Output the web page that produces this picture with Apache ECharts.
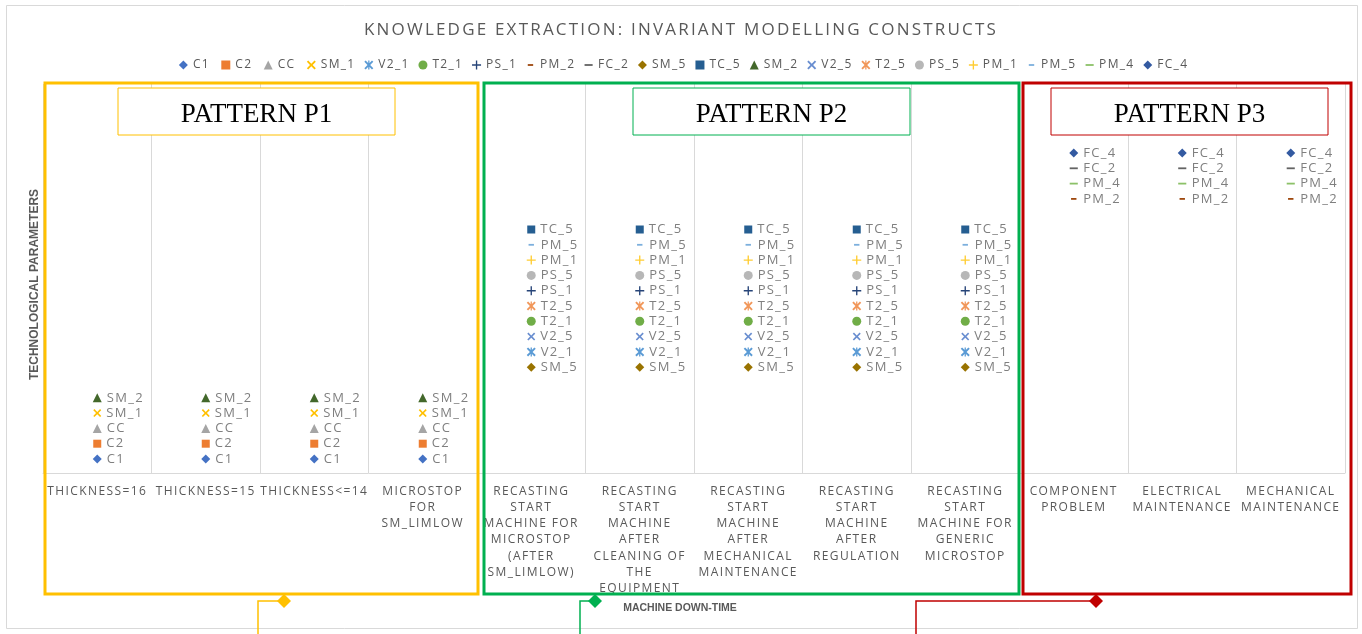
<!DOCTYPE html>
<html>
<head>
<meta charset="utf-8">
<script src="https://cdn.jsdelivr.net/npm/echarts@6/dist/echarts.min.js"></script>
<style>
  html, body { margin: 0; padding: 0; background: #ffffff; }
  #chart { width: 1362px; height: 634px; }
</style>
</head>
<body>
<div id="chart"></div>
<script>
// ---------------- DATA ----------------
const chartTitle = 'KNOWLEDGE EXTRACTION: INVARIANT MODELLING CONSTRUCTS';
const xTitle = 'MACHINE DOWN-TIME';
const yTitle = 'TECHNOLOGICAL PARAMETERS';

const categories = [
  'THICKNESS=16',
  'THICKNESS=15',
  'THICKNESS<=14',
  'MICROSTOP\nFOR\nSM_LIMLOW',
  'RECASTING\nSTART\nMACHINE FOR\nMICROSTOP\n(AFTER\nSM_LIMLOW)',
  'RECASTING\nSTART\nMACHINE\nAFTER\nCLEANING OF\nTHE\nEQUIPMENT',
  'RECASTING\nSTART\nMACHINE\nAFTER\nMECHANICAL\nMAINTENANCE',
  'RECASTING\nSTART\nMACHINE\nAFTER\nREGULATION',
  'RECASTING\nSTART\nMACHINE FOR\nGENERIC\nMICROSTOP',
  'COMPONENT\nPROBLEM',
  'ELECTRICAL\nMAINTENANCE',
  'MECHANICAL\nMAINTENANCE'
];

const _ = null;
// Pattern P1 parameters
const C1    = [1, 1, 1, 1, _, _, _, _, _, _, _, _];
const C2    = [2, 2, 2, 2, _, _, _, _, _, _, _, _];
const CC    = [3, 3, 3, 3, _, _, _, _, _, _, _, _];
const SM_1  = [4, 4, 4, 4, _, _, _, _, _, _, _, _];
const SM_2  = [5, 5, 5, 5, _, _, _, _, _, _, _, _];
// Pattern P2 parameters
const SM_5  = [_, _, _, _, 7, 7, 7, 7, 7, _, _, _];
const V2_1  = [_, _, _, _, 8, 8, 8, 8, 8, _, _, _];
const V2_5  = [_, _, _, _, 9, 9, 9, 9, 9, _, _, _];
const T2_1  = [_, _, _, _, 10, 10, 10, 10, 10, _, _, _];
const T2_5  = [_, _, _, _, 11, 11, 11, 11, 11, _, _, _];
const PS_1  = [_, _, _, _, 12, 12, 12, 12, 12, _, _, _];
const PS_5  = [_, _, _, _, 13, 13, 13, 13, 13, _, _, _];
const PM_1  = [_, _, _, _, 14, 14, 14, 14, 14, _, _, _];
const PM_5  = [_, _, _, _, 15, 15, 15, 15, 15, _, _, _];
const TC_5  = [_, _, _, _, 16, 16, 16, 16, 16, _, _, _];
// Pattern P3 parameters
const PM_2  = [_, _, _, _, _, _, _, _, _, 18, 18, 18];
const PM_4  = [_, _, _, _, _, _, _, _, _, 19, 19, 19];
const FC_2  = [_, _, _, _, _, _, _, _, _, 20, 20, 20];
const FC_4  = [_, _, _, _, _, _, _, _, _, 21, 21, 21];

// series in legend order
const seriesNames = ['C1','C2','CC','SM_1','V2_1','T2_1','PS_1','PM_2','FC_2','SM_5','TC_5','SM_2','V2_5','T2_5','PS_5','PM_1','PM_5','PM_4','FC_4'];
const seriesData  = [C1, C2, CC, SM_1, V2_1, T2_1, PS_1, PM_2, FC_2, SM_5, TC_5, SM_2, V2_5, T2_5, PS_5, PM_1, PM_5, PM_4, FC_4];

const patternNames = ['PATTERN P1', 'PATTERN P2', 'PATTERN P3'];

// ---------------- STYLE ----------------
const seriesColors = ['#4472C4','#ED7D31','#A5A5A5','#FFC000','#5B9BD5','#70AD47','#264478','#9E480E','#636363',
                      '#997300','#255E91','#43682B','#698ED0','#F1975A','#B7B7B7','#FFCD33','#7CAFDD','#8CC168','#335AA1'];
const X_PATH = 'M1.5,0L5,3.5L8.5,0L10,1.5L6.5,5L10,8.5L8.5,10L5,6.5L1.5,10L0,8.5L3.5,5L0,1.5Z';
const SYMBOLS = {
  diamond: { symbol: 'diamond', size: 9 },
  square:  { symbol: 'rect', size: 8 },
  triangle:{ symbol: 'triangle', size: 9 },
  x:       { symbol: 'path://' + X_PATH, size: 8 },
  star:    { symbol: 'path://' + X_PATH + 'M4.3,0H5.7V10H4.3Z', size: 9 },
  circle:  { symbol: 'circle', size: 9 },
  plus:    { symbol: 'path://M4.25,0H5.75V4.25H10V5.75H5.75V10H4.25V5.75H0V4.25H4.25Z', size: 9 },
  dash:    { symbol: 'path://M0,0M10,10M2,4H8V6H2Z', size: 9 },
  longDash:{ symbol: 'path://M0,0M10,10M0.5,4H9.5V6H0.5Z', size: 9 }
};
const markerCycle = ['diamond','square','triangle','x','star','circle','plus','dash','longDash'];

const patternColors = ['#FFC000', '#00B050', '#C00000'];

// Excel-style character spacing per text
const SPACED = new Map();
SPACED.set(chartTitle, '2.2px');
categories.forEach(c => c.split('\n').forEach(line => SPACED.set(line, '1.4px')));
seriesNames.forEach(n => SPACED.set(n, '1.3px'));
(function () {
  const proto = CanvasRenderingContext2D.prototype;
  const orig = proto.fillText;
  proto.fillText = function (text, x, y, maxWidth) {
    if ('letterSpacing' in this) {
      const sp = SPACED.has(text) ? SPACED.get(text) : '0px';
      if (this.letterSpacing !== sp) {
        this.letterSpacing = sp;
        const f = this.font;
        this.font = '1px serif';
        this.font = f;
      }
    }
    if (maxWidth === undefined) return orig.call(this, text, x, y);
    return orig.call(this, text, x, y, maxWidth);
  };
})();

// ---------------- CHART ----------------
const chart = echarts.init(document.getElementById('chart'), null, { renderer: 'canvas' });

const series = seriesNames.map((name, i) => {
  const m = SYMBOLS[markerCycle[i % markerCycle.length]];
  return {
    type: 'scatter',
    name: name,
    data: seriesData[i],
    symbol: m.symbol,
    symbolSize: m.size,
    itemStyle: { color: seriesColors[i], opacity: 1 },
    label: {
      show: true,
      position: 'right',
      distance: 5,
      formatter: '{a}',
      color: '#7F7F7F',
      fontSize: 13,
      fontFamily: 'Open Sans'
    },
    emphasis: { disabled: true },
    z: 3
  };
});

function patternBox(x, w, color) {
  return { type: 'rect', z: 100, silent: true,
    shape: { x: x, y: 83, width: w, height: 511 },
    style: { fill: 'none', stroke: color, lineWidth: 3 } };
}
function titleBox(x, text, color) {
  return { type: 'group', z: 101, silent: true, children: [
    { type: 'rect', z: 101, shape: { x: x, y: 88, width: 277, height: 47 },
      style: { fill: '#ffffff', stroke: color, lineWidth: 1 } },
    { type: 'text', z: 102, x: x + 138.5, y: 114.5,
      style: { text: text, fill: '#000000', font: '27px "Liberation Serif"', align: 'center', verticalAlign: 'middle' } }
  ]};
}
function connector(lineX, dx, color) {
  return { type: 'group', z: 100, silent: true, children: [
    { type: 'polyline', z: 100, shape: { points: [[lineX, 640], [lineX, 601], [dx, 601]] },
      style: { stroke: color, lineWidth: 1.5, fill: 'none' } },
    { type: 'polygon', z: 101, shape: { points: [[dx, 594], [dx + 7, 601], [dx, 608], [dx - 7, 601]] },
      style: { fill: color } }
  ]};
}

const option = {
  backgroundColor: '#ffffff',
  animation: false,
  textStyle: { fontFamily: 'Open Sans' },
  title: {
    text: chartTitle,
    left: 'center',
    top: 22,
    padding: 0,
    textStyle: { fontSize: 17, fontWeight: 'normal', color: '#595959', fontFamily: 'Open Sans' }
  },
  legend: {
    top: 59,
    left: 'center',
    padding: 0,
    itemWidth: 9,
    itemHeight: 9,
    itemGap: 14,
    selectedMode: false,
    textStyle: { color: '#595959', fontSize: 12, fontFamily: 'Open Sans' },
    data: seriesNames
  },
  grid: { left: 43, right: 17, top: 84, bottom: 161, outerBoundsMode: 'none', containLabel: false },
  xAxis: {
    type: 'category',
    data: categories,
    boundaryGap: true,
    axisLine: { show: true, lineStyle: { color: '#D9D9D9', width: 1 } },
    axisTick: { show: false },
    splitLine: { show: true, lineStyle: { color: '#D9D9D9', width: 1 } },
    axisLabel: {
      interval: 0,
      margin: 10,
      color: '#595959',
      fontSize: 12,
      lineHeight: 16.3,
      fontFamily: 'Open Sans',
      align: 'center'
    }
  },
  yAxis: {
    type: 'value',
    min: 0.085,
    max: 25.51,
    axisLine: { show: false },
    axisTick: { show: false },
    axisLabel: { show: false },
    splitLine: { show: false },
    name: yTitle,
    nameLocation: 'middle',
    nameGap: 2,
    nameRotate: 90,
    nameTextStyle: { color: '#595959', fontSize: 12, fontWeight: 'bold', fontFamily: 'Liberation Sans', padding: [0, 12, 0, 0] }
  },
  graphic: [
    { type: 'rect', z: -1, silent: true, shape: { x: 6.5, y: 5.5, width: 1351, height: 623 },
      style: { fill: 'none', stroke: '#D9D9D9', lineWidth: 1 } },
    patternBox(45, 433, patternColors[0]),
    patternBox(484, 535, patternColors[1]),
    patternBox(1023, 328, patternColors[2]),
    titleBox(118, patternNames[0], patternColors[0]),
    titleBox(633, patternNames[1], patternColors[1]),
    titleBox(1051, patternNames[2], patternColors[2]),
    connector(258, 284, patternColors[0]),
    connector(580, 595, patternColors[1]),
    connector(916, 1096, patternColors[2]),
    { type: 'text', z: 100, silent: true, x: 680, y: 608,
      style: { text: xTitle, fill: '#595959', font: 'bold 10.5px "Liberation Sans"', align: 'center', verticalAlign: 'middle' } }
  ],
  series: series
};

chart.setOption(option);
</script>
</body>
</html>
